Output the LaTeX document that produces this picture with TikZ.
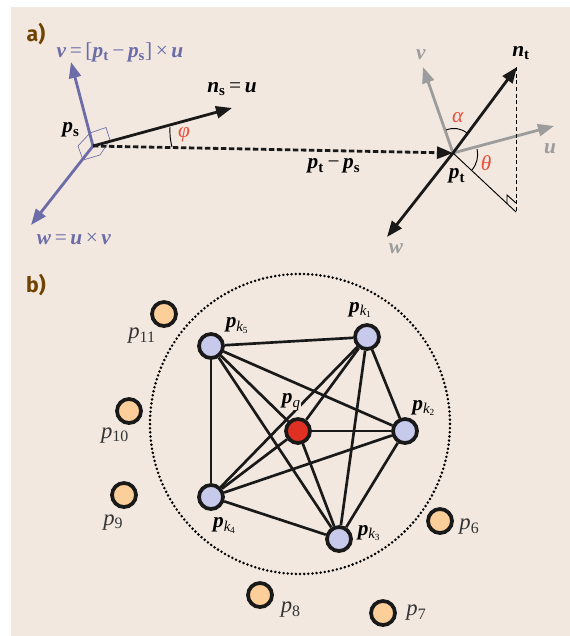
\documentclass[tikz,border=0pt]{standalone}
\usepackage{fontspec}
\setmainfont{Liberation Serif}
\newfontfamily\headfont{Fira Sans}
\usepackage{xcolor}
\usetikzlibrary{arrows.meta,positioning}
\definecolor{paper}{HTML}{F2E8DF}
\definecolor{vecblue}{HTML}{6C6CA8}
\definecolor{vecgray}{HTML}{9C9C9C}
\definecolor{anglered}{HTML}{E8503C}
\definecolor{headbrown}{HTML}{6F4400}
\definecolor{nearblue}{HTML}{C8CAEC}
\definecolor{farorange}{HTML}{FCCE9A}
\definecolor{queryred}{HTML}{E03024}
\newcommand{\bv}[1]{\textbf{\textit{#1}}}
\newcommand{\bvs}[2]{\textbf{\textit{#1}}\textsubscript{\textbf{#2}}}
\newcommand{\pk}[1]{\textbf{\textit{p}}\textsubscript{\textit{k}\kern-0.3pt\raisebox{-1.5pt}{\scriptsize #1}}}
\newcommand{\pfar}[1]{\textit{p}\textsubscript{#1}}
\begin{document}
\begin{tikzpicture}[
    x=0.75pt, y=-0.75pt,
    head/.style={font=\headfont\bfseries\fontsize{16}{16}\selectfont, text=headbrown},
    vec/.style={-{Triangle[length=12pt,width=9pt]}, line width=2.1pt, draw=black!90},
    bluevec/.style={vec, draw=vecblue},
    grayvec/.style={vec, draw=vecgray},
    thinline/.style={line width=0.7pt},
    lbl/.style={inner sep=0pt, font=\fontsize{16}{16}\selectfont},
    bluelbl/.style={lbl, text=vecblue},
    graylbl/.style={lbl, text=vecgray},
    redlbl/.style={lbl, text=anglered},
    near/.style={circle, draw=black!90, line width=2.8pt, fill=nearblue, minimum size=18pt, inner sep=0pt},
    far/.style={near, fill=farorange},
    query/.style={near, fill=queryred},
    edge/.style={line width=2pt, draw=black!90},
    farlbl/.style={lbl, text=black!80, font=\fontsize{17}{17}\selectfont}]
    \useasboundingbox (0,0) rectangle (570,636);
    \fill[paper] (11,7) rectangle (570,636);
    \node[head] (parta) at (36,34) {a)};
    \node[head] (partb) at (36,285) {b)};

    \coordinate (ps) at (93,146);
    \coordinate (pt) at (453,153);
    \coordinate (ns) at (232,108);
    \coordinate (vs) at (71,62);
    \coordinate (ws) at (31,225);
    \coordinate (nt) at (517,67);
    \coordinate (ut) at (554,126);
    \coordinate (vt) at (423,67);
    \coordinate (wt) at (387,237);
    \coordinate (top) at (516,67);
    \coordinate (foot) at (516,212);

    \draw[vecblue, line width=0.5pt] (78,146) -- (90,133) -- (106,127.5) -- (110,140) -- (100,155) -- (83,160) -- cycle;
    \draw[bluevec] (ps) -- (vs);
    \draw[bluevec] (ps) -- (ws);
    \draw[vec] (ps) -- (ns);
    \draw[vec, dashed, dash pattern=on 4pt off 2pt] (ps) -- (pt);
    \draw[grayvec] (pt) -- (vt);
    \draw[grayvec] (pt) -- (ut);
    \draw[vec] (pt) -- (nt);
    \draw[vec] (pt) -- (wt);
    \draw[thinline] (pt) -- (foot);
    \draw[thinline, densely dashed] (top) -- (foot);
    \draw[thinline] (507,204) -- (507,195) -- (516,203);
    \draw[thinline] (172,147) to[bend left=8] (170,127);
    \draw[thinline] (446,130) to[bend left=28] (467,133);
    \draw[thinline] (477,149) to[bend left=24] (472,170);

    \node[bluelbl] (vslbl) at (120,52) {\bv{v}\,=\,[\bvs{p}{t}\,−\,\bvs{p}{s}]\,×\,\bv{u}};
    \node[bluelbl] (wslbl) at (74,239) {\bv{w}\,=\,\bv{u}\,×\,\bv{v}};
    \node[lbl] (pslbl) at (71,130) {\bvs{p}{s}};
    \node[lbl] (nslbl) at (232,89) {\bvs{n}{s}\,=\,\bv{u}};
    \node[redlbl] (philbl) at (184,135) {\textit{φ}};
    \node[lbl] (difflbl) at (334,166) {\bvs{p}{t}\,−\,\bvs{p}{s}};
    \node[lbl] (ptlbl) at (457,176) {\bvs{p}{t}};
    \node[lbl] (ntlbl) at (521,53) {\bvs{n}{t}};
    \node[graylbl] (vtlbl) at (421,55) {\bv{v}};
    \node[graylbl] (utlbl) at (550,149) {\bv{u}};
    \node[graylbl] (wtlbl) at (396,249) {\bv{w}};
    \node[redlbl] (alphalbl) at (458,118) {\textit{α}};
    \node[redlbl] (thetalbl) at (486,163) {\textit{θ}};

    \draw[line width=2.1pt, line cap=round, dash pattern=on 0pt off 3.1pt] (300,424) circle (150);

    \node[near] (k1) at (367,337) {};
    \node[near] (k2) at (405,431) {};
    \node[near] (k3) at (339,539) {};
    \node[near] (k4) at (211,497) {};
    \node[near] (k5) at (211,346) {};
    \node[query] (q) at (298,431) {};
    \draw[edge] (k5) -- (k1);
    \draw[edge] (k5) -- (k2);
    \draw[edge] (k5) -- (k3);
    \draw[edge] (k5) -- (k4);
    \draw[edge] (k5) -- (q);
    \draw[edge] (k4) -- (k1);
    \draw[edge] (k4) -- (k2);
    \draw[edge] (k4) -- (k3);
    \draw[edge] (k4) -- (q);
    \draw[edge] (k1) -- (k2);
    \draw[edge] (k1) -- (k3);
    \draw[edge] (k1) -- (q);
    \draw[edge] (k2) -- (k3);
    \draw[edge] (k2) -- (q);
    \draw[edge] (k3) -- (q);

    \node[far] (p6) at (440,521) {};
    \node[far] (p7) at (383,613) {};
    \node[far] (p8) at (260,595) {};
    \node[far] (p9) at (124,495) {};
    \node[far] (p10) at (129,411) {};
    \node[far] (p11) at (164,314) {};

    \node[lbl, above=4pt of k1, xshift=-5pt] (k1lbl) {\pk{1}};
    \node[lbl, above=1pt of k2, xshift=14pt] (k2lbl) {\pk{2}};
    \node[lbl, right=3.5pt of k3, yshift=4.5pt] (k3lbl) {\pk{3}};
    \node[lbl, below=5pt of k4, xshift=10pt] (k4lbl) {\pk{4}};
    \node[lbl, above=-1pt of k5, xshift=19.5pt] (k5lbl) {\pk{5}};
    \node[lbl, fill=paper, above=5pt of q, xshift=-5pt] (qlbl) {\bv{p}\textsubscript{\textit{q}}};
    \node[farlbl, right=4pt of p6, yshift=-4.5pt] (p6lbl) {\pfar{6}};
    \node[farlbl, right=7pt of p7] (p7lbl) {\pfar{7}};
    \node[farlbl, right=5pt of p8, yshift=-11pt] (p8lbl) {\pfar{8}};
    \node[farlbl, below=4pt of p9, xshift=-8pt] (p9lbl) {\pfar{9}};
    \node[farlbl, below=2pt of p10, xshift=-10.5pt] (p10lbl) {\pfar{10}};
    \node[farlbl, below=0pt of p11, xshift=-16.5pt] (p11lbl) {\pfar{11}};
\end{tikzpicture}
\end{document}
